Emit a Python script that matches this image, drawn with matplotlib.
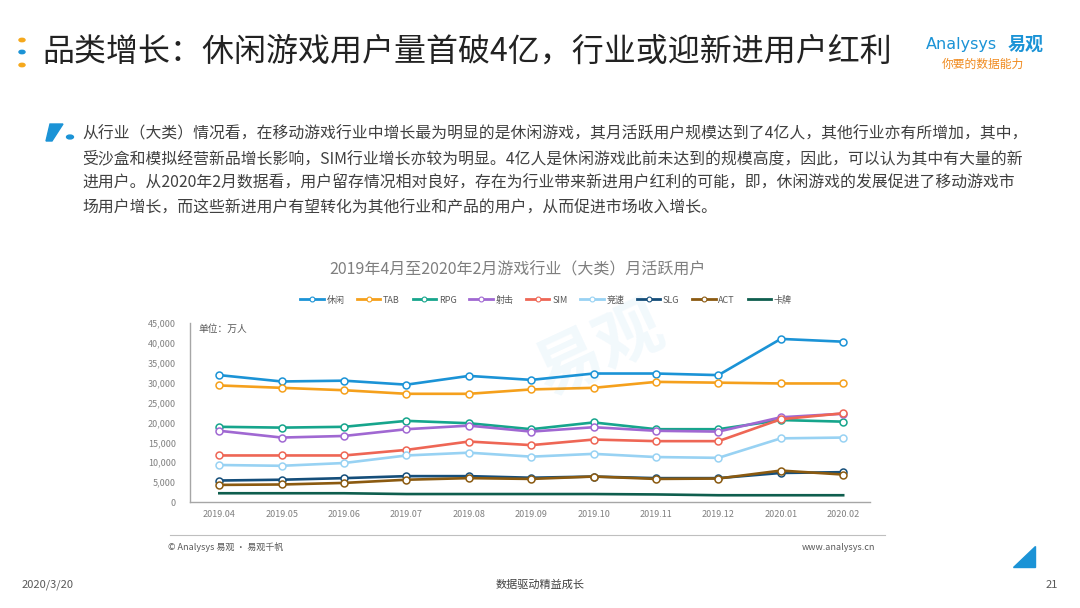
import matplotlib
matplotlib.use("Agg")
import matplotlib.pyplot as plt
from matplotlib.patches import Polygon, Circle
from matplotlib.lines import Line2D

plt.rcParams['font.family'] = ['Noto Sans CJK SC', 'DejaVu Sans']

months = ["2019.04", "2019.05", "2019.06", "2019.07", "2019.08", "2019.09",
          "2019.10", "2019.11", "2019.12", "2020.01", "2020.02"]

xiuxian = [31900, 30300, 30500, 29500, 31700, 30700, 32300, 32300, 31900, 41000, 40300]
tab     = [29300, 28700, 28100, 27200, 27200, 28300, 28700, 30200, 30000, 29800, 29800]
rpg     = [18900, 18700, 18900, 20400, 19800, 18300, 20000, 18300, 18300, 20600, 20200]
sheji   = [17900, 16200, 16600, 18300, 19200, 17700, 18800, 17900, 17700, 21300, 22200]
sim     = [11700, 11700, 11700, 13100, 15200, 14300, 15700, 15300, 15300, 20800, 22300]
jingsu  = [9300, 9100, 9800, 11700, 12400, 11400, 12100, 11300, 11100, 16000, 16200]
slg     = [5400, 5600, 6000, 6500, 6500, 6100, 6400, 6000, 6000, 7300, 7500]
act     = [4300, 4400, 4800, 5600, 6000, 5800, 6400, 5800, 5900, 7900, 6900]
kapai   = [2200, 2200, 2200, 2000, 2000, 2000, 2000, 1900, 1700, 1700, 1700]

series_names = ["休闲", "TAB", "RPG", "射击", "SIM", "竞速", "SLG", "ACT", "卡牌"]
series_values = [xiuxian, tab, rpg, sheji, sim, jingsu, slg, act, kapai]
colors = ["#1B93D6", "#F5A01C", "#16A58C", "#A068D2", "#EE6655", "#98D2F3",
          "#154E7A", "#8B5A10", "#0E5E4E"]
has_marker = [True, True, True, True, True, True, True, True, False]

y_ticks = [0, 5000, 10000, 15000, 20000, 25000, 30000, 35000, 40000, 45000]

fig = plt.figure(figsize=(10.8, 6.08), dpi=100)
W, H = 1080, 608

def fx(px):
    return px / W

def fy(py):
    return 1 - py / H

# --- Header ---
for cy, c in [(40, "#F5A81C"), (52, "#1B93D6"), (65, "#F5A81C")]:
    fig.patches.append(Circle((fx(22), fy(cy)), 0.0028, transform=fig.transFigure,
                              color=c, zorder=5))
fig.text(fx(42), fy(52), "品类增长：休闲游戏用户量首破4亿，行业或迎新进用户红利",
         fontsize=23.0, color="#222222", va="center", ha="left")
fig.text(fx(926), fy(44), "Analysys", fontsize=11.5, color="#1B93D6", va="center",
         ha="left", family=['DejaVu Sans'])
fig.text(fx(1008), fy(44), "易观", fontsize=13, color="#1B93D6", va="center",
         ha="left", fontweight="bold")
fig.text(fx(942), fy(64), "你要的数据能力", fontsize=8.5, color="#F08A1E", va="center",
         ha="left", style="italic")

# --- Body text ---
fig.patches.append(Polygon([[fx(46), fy(141)], [fx(50), fy(124)], [fx(63), fy(124)],
                            [fx(52), fy(141)]], closed=True, transform=fig.transFigure,
                           color="#1B93D6"))
fig.patches.append(Circle((fx(70), fy(137)), 0.0032, transform=fig.transFigure,
                          color="#1B93D6"))
body = [
    "从行业（大类）情况看，在移动游戏行业中增长最为明显的是休闲游戏，其月活跃用户规模达到了4亿人，其他行业亦有所增加，其中，",
    "受沙盒和模拟经营新品增长影响，SIM行业增长亦较为明显。4亿人是休闲游戏此前未达到的规模高度，因此，可以认为其中有大量的新",
    "进用户。从2020年2月数据看，用户留存情况相对良好，存在为行业带来新进用户红利的可能，即，休闲游戏的发展促进了移动游戏市",
    "场用户增长，而这些新进用户有望转化为其他行业和产品的用户，从而促进市场收入增长。",
]
for i, line in enumerate(body):
    fig.text(fx(82), fy(134 + i * 24.7), line, fontsize=11.4, color="#404040",
             va="center", ha="left")

# --- Chart ---
ax = fig.add_axes([fx(190), fy(502), fx(870) - fx(190), fy(323) - fy(502)])
x = list(range(len(months)))
for name, vals, c, m in zip(series_names, series_values, colors, has_marker):
    if m:
        ax.plot(x, vals, color=c, lw=1.9, marker="o", markersize=5,
                markerfacecolor="white", markeredgecolor=c, markeredgewidth=1.1,
                label=name, solid_capstyle="round", zorder=3)
    else:
        ax.plot(x, vals, color=c, lw=1.9, label=name, zorder=2)

ax.set_xlim(-0.47, 10.43)
ax.set_ylim(0, 45000)
ax.set_yticks(y_ticks)
ax.set_yticklabels([f"{v:,}" for v in y_ticks], fontsize=6.5, color="#808080")
ax.set_xticks(x)
ax.set_xticklabels(months, fontsize=6.5, color="#808080")
ax.tick_params(axis="both", length=0, pad=6)
ax.tick_params(axis="y", pad=10)
for s in ["top", "right"]:
    ax.spines[s].set_visible(False)
for s in ["left", "bottom"]:
    ax.spines[s].set_color("#A6A6A6")
    ax.spines[s].set_linewidth(1.0)
ax.text(0.012, 0.995, "单位：万人", transform=ax.transAxes, fontsize=7,
        color="#595959", va="top", ha="left")

# watermark
fig.text(fx(600), fy(350), "易观", fontsize=48, color="#1B93D6", alpha=0.06,
         rotation=25, ha="center", va="center", fontweight="bold")

fig.text(fx(518), fy(270), "2019年4月至2020年2月游戏行业（大类）月活跃用户",
         fontsize=11.5, color="#7F7F7F", ha="center", va="center")
leg_handles = []
for name, c, m in zip(series_names, colors, has_marker):
    if m:
        leg_handles.append(Line2D([0], [0], color=c, lw=2.0, marker="o", markersize=3.5,
                                  markerfacecolor="white", markeredgecolor=c,
                                  markeredgewidth=0.8))
    else:
        leg_handles.append(Line2D([0], [0], color=c, lw=2.0))
fig.legend(leg_handles, series_names, loc="center", bbox_to_anchor=(fx(546), fy(300)),
           ncol=9, frameon=False, fontsize=6.5, handlelength=2.6, handletextpad=0.3,
           columnspacing=1.4, labelcolor="#595959")

# --- Footer ---
fig.add_artist(Line2D([fx(170), fx(885)], [fy(535), fy(535)], color="#BFBFBF", lw=0.8))
fig.text(fx(168), fy(547), "© Analysys 易观 · 易观千帆", fontsize=6.5, color="#595959",
         ha="left", va="center")
fig.text(fx(875), fy(547), "www.analysys.cn", fontsize=6.5, color="#595959",
         ha="right", va="center")
fig.patches.append(Polygon([[fx(1013), fy(567)], [fx(1035), fy(567)], [fx(1035), fy(546)]],
                           closed=True, transform=fig.transFigure, color="#1B93D6"))
fig.text(fx(22), fy(585), "2020/3/20", fontsize=8, color="#595959", ha="left", va="center")
fig.text(fx(540), fy(585), "数据驱动精益成长", fontsize=8, color="#404040",
         ha="center", va="center")
fig.text(fx(1058), fy(585), "21", fontsize=8, color="#595959", ha="right", va="center")

fig.savefig("out.png", dpi=100)
